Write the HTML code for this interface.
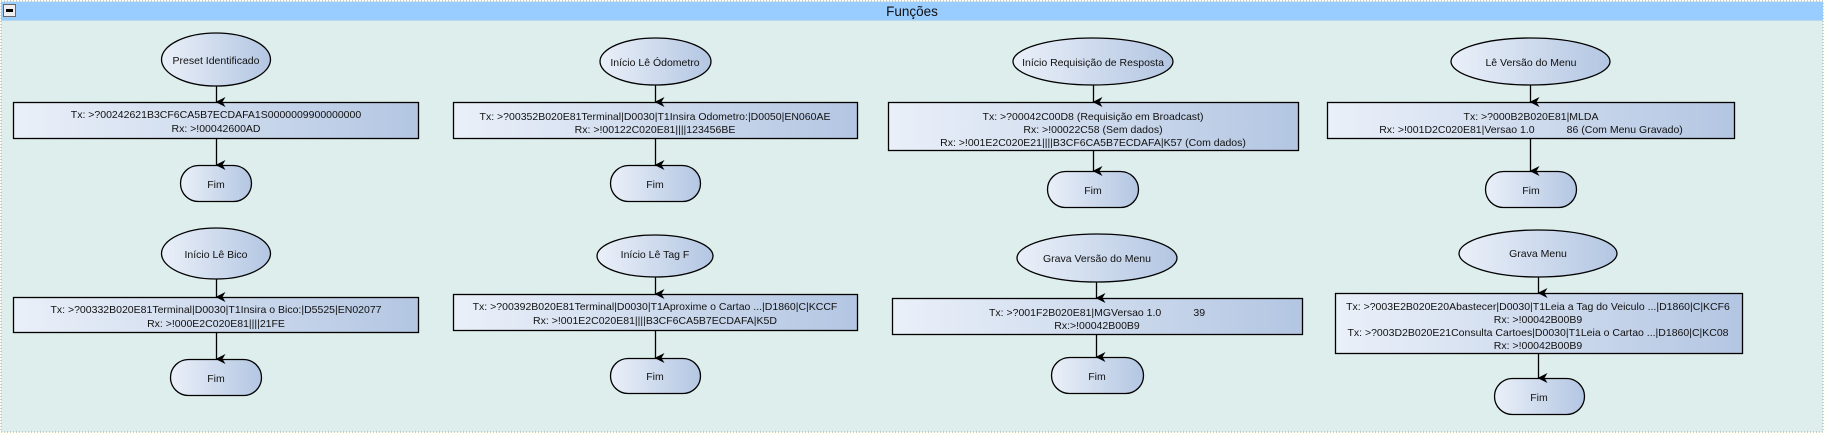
<!DOCTYPE html>
<html><head><meta charset="utf-8"><style>
html,body{margin:0;padding:0;background:#fffff4;}
svg{display:block;}
text{font-family:"Liberation Sans",Arial,sans-serif;font-size:10.5px;fill:#111;text-anchor:middle;}
</style></head><body>
<svg width="1826" height="435" viewBox="0 0 1826 435" xmlns="http://www.w3.org/2000/svg">
<defs>
<linearGradient id="g" x1="0" y1="0" x2="1" y2="0">
<stop offset="0" stop-color="#eaf0f9"/><stop offset="1" stop-color="#b3c6e2"/>
</linearGradient>
<marker id="a" markerWidth="10" markerHeight="10" refX="5" refY="9" orient="auto" markerUnits="userSpaceOnUse">
<path d="M0,0 L5,3 L10,0 L5,10 Z" fill="#000"/>
</marker>
</defs>
<rect x="1" y="1" width="1822" height="431" fill="#deeeec" stroke="#9aa0b8" stroke-dasharray="1,2"/>
<rect x="1" y="2" width="1822" height="18" fill="#99ccff"/>
<line x1="1" y1="20.5" x2="1823" y2="20.5" stroke="#b8d8f0"/>
<rect x="3.5" y="4.5" width="12" height="12" fill="#eee" stroke="#666"/>
<rect x="6" y="9" width="7" height="3" fill="#000"/>
<text x="912" y="16" style="font-size:13.5px">Funções</text>

<g stroke="#000" stroke-width="1.3" fill="url(#g)">
<!-- col1 -->
<ellipse cx="216" cy="59.5" rx="54.5" ry="26.5"/>
<rect x="13.5" y="102.5" width="405" height="36"/>
<rect x="180.5" y="165.5" width="71" height="36" rx="18"/>
<ellipse cx="216" cy="253.5" rx="54.5" ry="25.5"/>
<rect x="13.5" y="297.5" width="405" height="35"/>
<rect x="170.5" y="359.5" width="91" height="36" rx="18"/>
<!-- col2 -->
<ellipse cx="655.5" cy="61.5" rx="55.5" ry="23.5"/>
<rect x="453.5" y="102.5" width="404" height="36"/>
<rect x="610.5" y="165.5" width="90" height="36" rx="18"/>
<ellipse cx="655" cy="256" rx="58" ry="21"/>
<rect x="453.5" y="294.5" width="404" height="36"/>
<rect x="610.5" y="358.5" width="90" height="35" rx="17.5"/>
<!-- col3 -->
<ellipse cx="1093" cy="61.5" rx="80" ry="23.5"/>
<rect x="888.5" y="102.5" width="410" height="48"/>
<rect x="1047.5" y="171.5" width="91" height="36" rx="18"/>
<ellipse cx="1097" cy="258" rx="80" ry="24"/>
<rect x="892.5" y="298.5" width="410" height="36"/>
<rect x="1051.5" y="357.5" width="92" height="36" rx="18"/>
<!-- col4 -->
<ellipse cx="1530.5" cy="61.5" rx="79.5" ry="23.5"/>
<rect x="1327.5" y="102.5" width="407" height="36"/>
<rect x="1485.5" y="171.5" width="91" height="36" rx="18"/>
<ellipse cx="1538" cy="253.5" rx="79" ry="23.5"/>
<rect x="1335.5" y="293.5" width="407" height="60"/>
<rect x="1494.5" y="378.5" width="90" height="36" rx="18"/>
</g>

<g stroke="#000" stroke-width="1.3" marker-end="url(#a)">
<line x1="216.5" y1="86" x2="216.5" y2="102"/>
<line x1="216.5" y1="139" x2="216.5" y2="165"/>
<line x1="216.5" y1="279" x2="216.5" y2="297"/>
<line x1="216.5" y1="333" x2="216.5" y2="359"/>
<line x1="655.5" y1="85" x2="655.5" y2="102"/>
<line x1="655.5" y1="139" x2="655.5" y2="165"/>
<line x1="655.5" y1="277" x2="655.5" y2="294"/>
<line x1="655.5" y1="331" x2="655.5" y2="358"/>
<line x1="1093.5" y1="85" x2="1093.5" y2="102"/>
<line x1="1093.5" y1="151" x2="1093.5" y2="171"/>
<line x1="1096.5" y1="282" x2="1096.5" y2="298"/>
<line x1="1096.5" y1="335" x2="1096.5" y2="357"/>
<line x1="1530.5" y1="85" x2="1530.5" y2="102"/>
<line x1="1530.5" y1="139" x2="1530.5" y2="171"/>
<line x1="1538.5" y1="277" x2="1538.5" y2="293"/>
<line x1="1538.5" y1="354" x2="1538.5" y2="378"/>
</g>

<text x="216" y="64">Preset Identificado</text>
<text x="216" y="118">Tx: &gt;?00242621B3CF6CA5B7ECDAFA1S0000009900000000</text>
<text x="216" y="132">Rx: &gt;!00042600AD</text>
<text x="216" y="188">Fim</text>
<text x="216" y="258">Início Lê Bico</text>
<text x="216" y="313">Tx: &gt;?00332B020E81Terminal|D0030|T1Insira o Bico:|D5525|EN02077</text>
<text x="216" y="327">Rx: &gt;!000E2C020E81||||21FE</text>
<text x="216" y="382">Fim</text>

<text x="655" y="66">Início Lê Ódometro</text>
<text x="655" y="120">Tx: &gt;?00352B020E81Terminal|D0030|T1Insira Odometro:|D0050|EN060AE</text>
<text x="655" y="133">Rx: &gt;!00122C020E81||||123456BE</text>
<text x="655" y="188">Fim</text>
<text x="655" y="258">Início Lê Tag F</text>
<text x="655" y="310">Tx: &gt;?00392B020E81Terminal|D0030|T1Aproxime o Cartao ...|D1860|C|KCCF</text>
<text x="655" y="324">Rx: &gt;!001E2C020E81||||B3CF6CA5B7ECDAFA|K5D</text>
<text x="655" y="380">Fim</text>

<text x="1093" y="66">Início Requisição de Resposta</text>
<text x="1093" y="120">Tx: &gt;?00042C00D8 (Requisição em Broadcast)</text>
<text x="1093" y="133">Rx: &gt;!00022C58 (Sem dados)</text>
<text x="1093" y="146">Rx: &gt;!001E2C020E21||||B3CF6CA5B7ECDAFA|K57 (Com dados)</text>
<text x="1093" y="194">Fim</text>
<text x="1097" y="262">Grava Versão do Menu</text>
<text x="1097" y="316" xml:space="preserve">Tx: &gt;?001F2B020E81|MGVersao 1.0           39</text>
<text x="1097" y="329">Rx:&gt;!00042B00B9</text>
<text x="1097" y="380">Fim</text>

<text x="1531" y="66">Lê Versão do Menu</text>
<text x="1531" y="120">Tx: &gt;?000B2B020E81|MLDA</text>
<text x="1531" y="133" xml:space="preserve">Rx: &gt;!001D2C020E81|Versao 1.0           86 (Com Menu Gravado)</text>
<text x="1531" y="194">Fim</text>
<text x="1538" y="257">Grava Menu</text>
<text x="1538" y="310">Tx: &gt;?003E2B020E20Abastecer|D0030|T1Leia a Tag do Veiculo ...|D1860|C|KCF6</text>
<text x="1538" y="323">Rx: &gt;!00042B00B9</text>
<text x="1538" y="336">Tx: &gt;?003D2B020E21Consulta Cartoes|D0030|T1Leia o Cartao ...|D1860|C|KC08</text>
<text x="1538" y="349">Rx: &gt;!00042B00B9</text>
<text x="1539" y="401">Fim</text>
</svg>
</body></html>
